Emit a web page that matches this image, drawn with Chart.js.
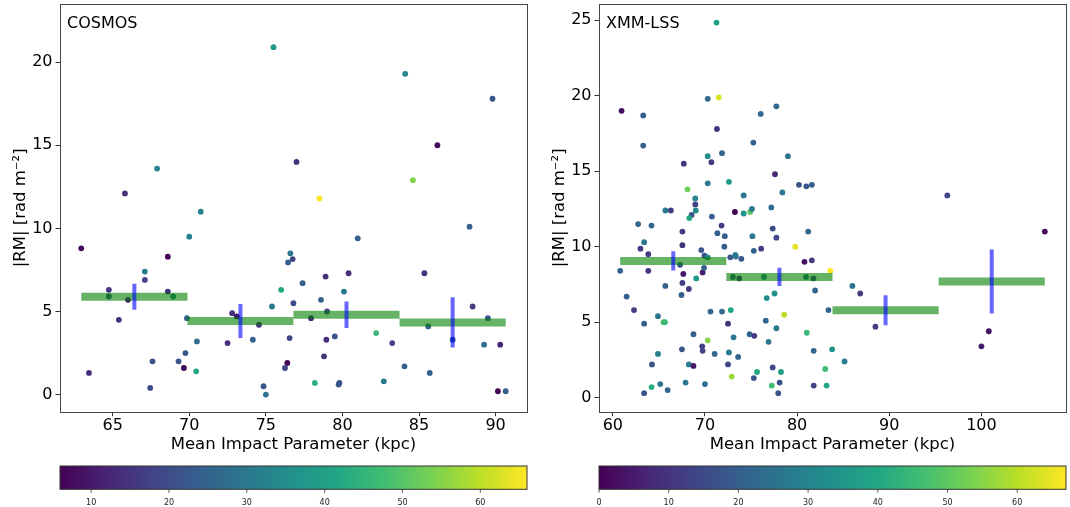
<!DOCTYPE html>
<html>
<head>
<meta charset="utf-8">
<script src="https://cdn.jsdelivr.net/npm/chart.js@4/dist/chart.umd.min.js"></script>
<style>
  html, body { margin: 0; padding: 0; background: #fff; }
  #wrap { position: relative; width: 1070px; height: 507px; overflow: hidden; }
  .panel { position: absolute; top: 0; width: 535px; height: 507px; }
</style>
</head>
<body>
<div id="wrap">
  <div class="panel" style="left:0"><canvas id="cosmos" width="535" height="507"></canvas></div>
  <div class="panel" style="left:535px"><canvas id="xmm" width="535" height="507"></canvas></div>
</div>
<script>
// ---- COSMOS: impact parameter (kpc), |RM| (rad m^-2), colour value ----
const cosmosImpact = [75.5, 84.1, 89.8, 67.9, 77.0, 86.2, 84.6, 65.8, 78.5, 70.75,
  70.0, 81.0, 88.3, 62.95, 68.6, 76.6, 76.45, 76.75, 67.1, 67.1,
  80.4, 78.9, 77.4, 76.0, 64.75, 68.6, 80.1, 64.75, 68.95, 66.0,
  78.6, 76.8, 75.4, 88.5, 72.8, 73.1, 79.0, 69.85, 77.95, 89.5,
  74.55, 85.6, 65.4, 82.2, 87.2, 70.5, 74.15, 76.55, 72.5, 83.25,
  78.95, 79.5, 89.25, 90.3, 69.75, 69.3, 67.6, 78.8, 69.65, 76.4,
  76.25, 70.45, 63.45, 84.05, 85.7, 67.45, 74.85, 75.0, 78.2, 79.8,
  79.75, 82.7, 90.15, 90.66, 85.35];
const cosmosRM = [20.9, 19.3, 17.8, 13.6, 14.0, 15.0, 12.9, 12.1, 11.8, 11.0,
  9.5, 9.4, 10.1, 8.8, 8.3, 8.5, 7.95, 8.15, 7.4, 6.9,
  7.3, 7.1, 6.7, 6.3, 6.3, 6.2, 6.2, 5.9, 5.9, 5.7,
  5.7, 5.5, 5.3, 5.3, 4.9, 4.7, 5.0, 4.6, 4.6, 4.6,
  4.2, 4.1, 4.5, 3.7, 3.3, 3.2, 3.3, 3.4, 3.1, 3.1,
  3.3, 3.5, 3.0, 3.0, 2.5, 2.0, 2.0, 2.3, 1.6, 1.9,
  1.6, 1.4, 1.3, 1.7, 1.3, 0.4, 0.5, 0.0, 0.7, 0.7,
  0.6, 0.8, 0.2, 0.2, 7.3];
const cosmosCol = [38, 33, 22, 32, 14, 8, 55, 14, 66, 32,
  32, 24, 24, 7, 6, 29, 24, 18, 31, 18,
  14, 14, 24, 42, 15, 14, 30, 20, 30, 10,
  24, 20, 30, 17, 14, 10, 18, 24, 12, 22,
  14, 24, 14, 46, 24, 27, 24, 18, 14, 18,
  14, 22, 28, 12, 22, 22, 22, 15, 7, 7,
  18, 42, 14, 24, 24, 20, 22, 28, 44, 20,
  22, 30, 7, 24, 14];
const cosmosBinEdges = [62.95, 69.88, 76.8, 83.73, 90.66];
const cosmosBinMean = [5.89, 4.43, 4.8, 4.34];
const cosmosBinErr = [0.78, 1.02, 0.8, 1.51];
const cosmosXTicks = [65, 70, 75, 80, 85, 90];
const cosmosYTicks = [0, 5, 10, 15, 20];
const cosmosCbarTicks = [10, 20, 30, 40, 50, 60];

// ---- XMM-LSS ----
const xmmImpact = [71.25, 60.95, 70.3, 71.5, 77.75, 63.3, 76.05, 71.3, 63.3, 75.25,
  70.3, 71.85, 79.0, 67.7, 70.7, 77.6, 70.3, 72.6, 68.1, 80.2,
  81.0, 81.6, 96.3, 74.2, 78.4, 68.95, 68.95, 69.0, 65.7, 66.3,
  73.25, 74.2, 74.9, 75.1, 77.2, 68.55, 68.3, 70.75, 62.75, 64.2,
  71.8, 77.35, 67.55, 71.35, 81.2, 72.15, 75.15, 77.75, 106.88, 63.4,
  67.55, 63.0, 69.6, 72.1, 75.3, 76.1, 79.8, 63.85, 69.95, 70.3,
  72.75, 73.3, 73.35, 73.95, 80.8, 81.6, 83.6, 60.8, 63.85, 67.3,
  67.65, 69.75, 69.9, 69.05, 67.55, 65.7, 68.25, 67.45, 61.5, 62.3,
  64.9, 63.4, 65.5, 65.65, 70.6, 71.85, 72.8, 72.5, 68.75, 70.3,
  73.1, 74.85, 75.35, 76.6, 78.6, 77.75, 77.55, 76.7, 81.95, 86.0,
  86.85, 83.4, 88.5, 100.8, 100.0, 81.05, 76.9, 69.7, 67.5, 69.75,
  71.05, 72.6, 73.6, 81.8, 83.8, 85.15, 64.9, 64.25, 68.25, 68.75,
  72.5, 77.35, 75.65, 78.25, 83.05, 75.3, 72.9, 67.9, 70.0, 65.15,
  64.2, 65.95, 63.4, 78.1, 77.25, 81.8, 83.2, 77.95, 73.03, 73.72,
  76.4, 80.97, 81.77];
const xmmRM = [24.85, 19.0, 19.8, 19.9, 19.3, 18.7, 18.8, 17.8, 16.7, 16.9,
  16.0, 16.2, 16.0, 15.5, 15.6, 14.8, 14.2, 14.3, 13.8, 14.1,
  14.0, 14.1, 13.4, 13.4, 13.6, 13.2, 12.8, 12.4, 12.4, 12.4,
  12.3, 12.2, 12.3, 12.5, 12.6, 12.1, 11.9, 12.0, 11.5, 11.4,
  11.4, 11.2, 11.0, 10.9, 11.0, 10.7, 10.7, 10.6, 11.0, 10.3,
  10.1, 9.87, 9.78, 10.0, 9.73, 9.87, 10.0, 9.5, 9.4, 9.3,
  9.3, 9.45, 9.35, 9.2, 9.0, 9.1, 8.4, 8.4, 8.4, 8.8,
  8.2, 8.3, 8.6, 7.9, 7.6, 7.4, 7.2, 6.8, 6.7, 5.8,
  5.4, 4.9, 5.0, 5.0, 5.7, 5.7, 5.8, 4.9, 4.2, 3.8,
  4.0, 4.2, 4.1, 5.1, 5.5, 4.6, 6.9, 6.6, 7.1, 7.4,
  6.9, 5.8, 4.7, 4.4, 3.4, 4.3, 3.7, 3.4, 3.2, 3.1,
  2.9, 3.0, 2.7, 3.1, 3.2, 2.4, 2.9, 2.2, 2.2, 2.1,
  2.2, 2.0, 1.7, 1.7, 1.9, 1.3, 1.4, 1.0, 0.9, 0.9,
  0.7, 0.5, 0.3, 1.0, 0.8, 0.8, 0.8, 0.3, 8.0, 7.9,
  8.0, 8.0, 7.9];
const xmmCol = [37, 2, 22, 63, 22, 20, 22, 10, 20, 20,
  33, 22, 26, 10, 12, 8, 27, 36, 52, 17,
  18, 20, 14, 26, 26, 30, 13, 32, 28, 12,
  0, 34, 50, 28, 24, 18, 40, 20, 22, 22,
  12, 15, 12, 20, 22, 20, 26, 14, 2, 26,
  10, 12, 18, 20, 20, 12, 64, 12, 16, 30,
  18, 30, 26, 18, 3, 12, 67, 20, 10, 16,
  4, 5, 20, 36, 12, 20, 12, 20, 20, 12,
  26, 20, 48, 45, 22, 22, 40, 10, 20, 55,
  26, 22, 12, 22, 60, 28, 34, 32, 22, 26,
  12, 22, 12, 3, 5, 45, 26, 13, 18, 14,
  22, 28, 22, 22, 34, 28, 28, 18, 28, 4,
  14, 14, 40, 38, 46, 18, 57, 26, 24, 26,
  42, 22, 18, 16, 46, 13, 40, 18, 20, 10,
  30, 24, 14];
const xmmBinEdges = [60.8, 72.32, 83.84, 95.36, 106.88];
const xmmBinMean = [9.06, 8.0, 5.79, 7.7];
const xmmBinErr = [0.64, 0.6, 0.99, 2.12];
const xmmXTicks = [60, 70, 80, 90, 100];
const xmmYTicks = [0, 5, 10, 15, 20, 25];
const xmmCbarTicks = [0, 10, 20, 30, 40, 50, 60];

// viridis colour map, sampled every 0.1
const viridisStops = ['#440154', '#482475', '#414487', '#355f8d', '#2a788e', '#21918c',
  '#22a884', '#44bf70', '#7ad151', '#bddf26', '#fde725'];

function hexToRgb(h) {
  return [parseInt(h.slice(1, 3), 16), parseInt(h.slice(3, 5), 16), parseInt(h.slice(5, 7), 16)];
}

function viridis(t) {
  t = Math.max(0, Math.min(1, t));
  const p = t * (viridisStops.length - 1);
  const i = Math.min(viridisStops.length - 2, Math.floor(p));
  const f = p - i;
  const a = hexToRgb(viridisStops[i]);
  const b = hexToRgb(viridisStops[i + 1]);
  const c = a.map((v, k) => Math.round(v + (b[k] - v) * f));
  return `rgb(${c[0]}, ${c[1]}, ${c[2]})`;
}

const FONT = '"DejaVu Sans", "Liberation Sans", sans-serif';

// frame, panel name and colour bar
const panelDecor = {
  id: 'panelDecor',
  afterDatasetsDraw(chart, args, opts) {
    const {ctx, chartArea: a} = chart;
    ctx.save();
    ctx.strokeStyle = '#444';
    ctx.lineWidth = 1;
    ctx.strokeRect(Math.round(a.left) + 0.5, Math.round(a.top) + 0.5,
      Math.round(a.right - a.left), Math.round(a.bottom - a.top));
    ctx.fillStyle = '#000';
    ctx.font = `16px ${FONT}`;
    ctx.textBaseline = 'middle';
    ctx.textAlign = 'left';
    ctx.fillText(opts.name, a.left + 7, a.top + 20);
    ctx.restore();
  },
  afterDraw(chart) {
    const cb = chart.scales.cbar;
    const ctx = chart.ctx;
    const top = cb.top, h = 23.3;
    ctx.save();
    const grad = ctx.createLinearGradient(cb.left, 0, cb.right, 0);
    viridisStops.forEach((c, i) => grad.addColorStop(i / (viridisStops.length - 1), c));
    ctx.fillStyle = grad;
    ctx.fillRect(cb.left, top, cb.right - cb.left, h);
    ctx.strokeStyle = '#333';
    ctx.lineWidth = 1;
    ctx.strokeRect(cb.left, top, cb.right - cb.left, h);
    ctx.lineWidth = 0.8;
    cb.ticks.forEach(t => {
      const x = cb.getPixelForValue(t.value);
      ctx.beginPath();
      ctx.moveTo(x, top + h);
      ctx.lineTo(x, top + h + 3.5);
      ctx.stroke();
    });
    ctx.restore();
  }
};

function makePanel(id, p) {
  const vmin = Math.min(...p.col);
  const vmax = Math.max(...p.col);

  const datasets = [];
  // error bars on the bin means
  p.mean.forEach((m, i) => {
    const xc = (p.edges[i] + p.edges[i + 1]) / 2;
    datasets.push({
      data: [{x: xc, y: m - p.err[i]}, {x: xc, y: m + p.err[i]}],
      showLine: true, borderColor: 'rgba(0,0,255,0.6)', borderWidth: 4,
      borderCapStyle: 'butt', pointRadius: 0, order: 0
    });
  });
  // bin means spanning each bin
  p.mean.forEach((m, i) => {
    datasets.push({
      data: [{x: p.edges[i], y: m}, {x: p.edges[i + 1], y: m}],
      showLine: true, borderColor: 'rgba(0,128,0,0.6)', borderWidth: 8,
      borderCapStyle: 'butt', pointRadius: 0, order: 1
    });
  });
  datasets.push({
    data: p.impact.map((x, i) => ({x: x, y: p.rm[i]})),
    backgroundColor: p.col.map(c => viridis((c - vmin) / (vmax - vmin))),
    pointRadius: 2.9, borderWidth: 0, order: 2
  });

  const tickFont = {family: FONT, size: 16};
  const titleFont = {family: FONT, size: 16.5};

  new Chart(document.getElementById(id), {
    type: 'scatter',
    data: {datasets: datasets},
    options: {
      responsive: false,
      animation: false,
      devicePixelRatio: 1,
      layout: {padding: {top: 2, right: p.rightPad, left: 0, bottom: 0}},
      plugins: {
        legend: {display: false},
        tooltip: {enabled: false},
        panelDecor: {name: p.name}
      },
      scales: {
        x: {
          type: 'linear', position: 'bottom', min: p.xLim[0], max: p.xLim[1],
          afterBuildTicks: s => { s.ticks = p.xTicks.map(v => ({value: v})); },
          afterFit: s => { s.height = 54.3; s.paddingLeft = 0; s.paddingRight = 0; },
          ticks: {font: tickFont, color: '#000', padding: 0, maxRotation: 0},
          grid: {drawOnChartArea: false, drawTicks: true, tickLength: 4.5, color: '#333'},
          border: {display: false},
          title: {display: true, text: 'Mean Impact Parameter (kpc)', font: titleFont,
            color: '#000', padding: {top: 0, bottom: 11}}
        },
        cbar: {
          type: 'linear', position: 'bottom', weight: 1, display: true,
          min: vmin, max: vmax,
          afterBuildTicks: s => { s.ticks = p.cbarTicks.map(v => ({value: v})); },
          afterFit: s => { s.height = 41; s.paddingLeft = 0; s.paddingRight = 0; },
          ticks: {font: {family: FONT, size: 8}, color: '#222', padding: 32, maxRotation: 0},
          grid: {display: false, drawTicks: false},
          border: {display: false}
        },
        y: {
          type: 'linear', position: 'left', min: p.yLim[0], max: p.yLim[1],
          afterBuildTicks: s => { s.ticks = p.yTicks.map(v => ({value: v})); },
          afterFit: s => { s.width = p.yAxisWidth; s.paddingTop = 0; s.paddingBottom = 0; },
          ticks: {font: tickFont, color: '#000', padding: 3},
          grid: {drawOnChartArea: false, drawTicks: true, tickLength: 4.5, color: '#333'},
          border: {display: false},
          title: {display: true, text: '|RM| [rad m\u207B\u00B2]', font: titleFont,
            color: '#000', padding: {top: p.titlePad, bottom: 0}}
        }
      }
    },
    plugins: [panelDecor]
  });
}

makePanel('cosmos', {
  name: 'COSMOS', impact: cosmosImpact, rm: cosmosRM, col: cosmosCol,
  edges: cosmosBinEdges, mean: cosmosBinMean, err: cosmosBinErr,
  xLim: [61.56, 92.05], yLim: [-1.03, 23.5],
  xTicks: cosmosXTicks, yTicks: cosmosYTicks, cbarTicks: cosmosCbarTicks,
  yAxisWidth: 60, titlePad: 11, rightPad: 8
});

makePanel('xmm', {
  name: 'XMM-LSS', impact: xmmImpact, rm: xmmRM, col: xmmCol,
  edges: xmmBinEdges, mean: xmmBinMean, err: xmmBinErr,
  xLim: [58.5, 109.18], yLim: [-0.93, 26.08],
  xTicks: xmmXTicks, yTicks: xmmYTicks, cbarTicks: xmmCbarTicks,
  yAxisWidth: 64, titlePad: 14.5, rightPad: 4
});
</script>
</body>
</html>
